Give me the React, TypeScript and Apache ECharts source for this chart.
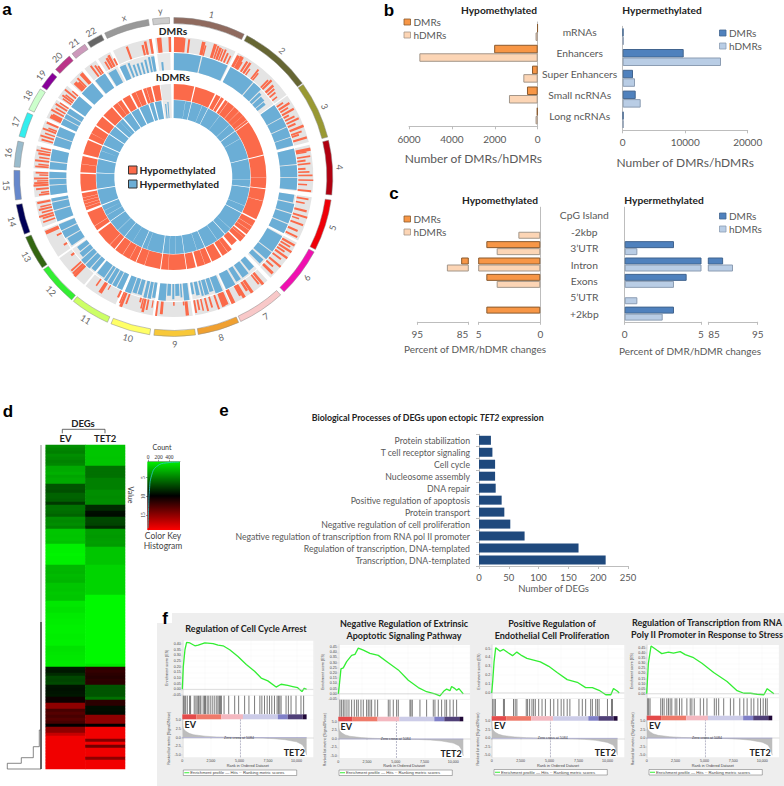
import React, { useEffect, useRef } from "react";
import * as echarts from "echarts";

// ---------- panel a : circos ----------
const chromNames = ["1","2","3","4","5","6","7","8","9","10","11","12","13","14","15","16","17","18","19","20","21","22","x","y"];
const chromStart = [0.2,27.5,54.5,76.7,98.3,118,137.7,155.8,172,188.5,204.4,219.6,235.3,249,261.7,273.6,284.8,295,304.5,312.4,320.6,327.5,334.5,352.5];
const chromEnd = [26.4,54,75.5,96.5,117,136,155,171,187,203,218.8,234.5,247.8,260,272.4,283,293.8,303.5,310.7,319.3,326.3,333.2,351,358.6];
const chromColors = ["#8f6a5e","#666633","#999933","#b00010","#ee0008","#f010b0","#f8c8c8","#f0a030","#f8c838","#ffff66","#ccff66","#33ee33","#336611","#000055","#6688cc","#99bbcc","#33eeee","#ccffcc","#880099","#bb3388","#cc99bb","#666666","#999999","#cccccc"];
// [angle, width, fraction of track]
const dmrHypoBars = [
  [0.3,3,1],[4.1,0.7,0.95],[6.2,0.6,0.9],[12,1.1,0.9],[13.5,0.5,0.7],[17,1,0.95],[18.6,0.6,0.9],[19.6,0.8,0.85],[20.9,0.5,0.8],[22,0.6,0.85],[23.4,0.6,0.7],[25,0.5,0.6],
  [27.6,1,0.85],[29,1.2,0.9],[30.4,0.6,0.6],[32.2,0.7,0.8],[33.5,0.8,0.85],[35,0.5,0.5],[38,0.6,0.8],[39,0.5,0.6],[44,0.6,0.7],[45,0.7,0.85],[47,0.8,0.7],[48.5,0.6,0.6],[50,0.6,0.5],[52,0.5,0.4],
  [55.5,0.6,0.5],[57,0.7,0.85],[58.5,0.6,0.6],[60,0.7,0.9],[61.5,0.6,0.4],[63,0.6,0.7],[64.5,0.6,0.9],[66,0.7,0.55],[68,0.8,1],[70,0.6,0.75],[71,0.6,0.5],[73,0.7,0.95],
  [77.8,1,1],[79,0.5,0.7],[81,0.5,0.9],[82.5,0.6,0.55],[84,0.5,0.85],[86,0.6,0.5],[87.5,0.5,0.75],[89,0.5,0.95],[91,0.5,1],[93,0.5,0.6],[95.5,0.6,0.9],
  [99,0.6,0.8],[101,0.5,0.6],[104,0.7,0.85],[106.5,0.6,1],[108,0.5,0.5],[110,0.6,0.9],[113,0.7,0.7],[115.5,0.6,0.85],
  [119,0.7,0.95],[120.5,0.6,0.75],[122,0.7,1],[123.5,0.6,0.6],[125,0.7,1],[127,0.6,0.7],[129.5,0.7,1],[131.5,0.6,0.6],[133.5,0.9,0.9],
  [139.5,0.9,1],[141,0.6,0.8],[145,1,1],[146.5,0.8,0.7],[148.8,1,1],[150,0.8,0.75],[153.7,1.2,1],
  [156.5,1.5,0.9],[158,1,0.95],[160.5,0.6,1],[163,0.6,0.75],[165,0.6,0.9],[167,0.5,0.8],[168.5,0.6,0.7],[170,0.6,0.85],
  [173.5,1,0.95],[175,0.5,0.25],[179.4,0.5,0.25],[184.4,0.9,0.85],[186.7,0.6,1],
  [189,0.4,0.5],[191,0.6,0.7],[192.3,0.8,0.9],[193.5,0.5,0.7],[194.5,0.6,0.3],[200,0.6,0.7],[201.5,0.9,1],[202.7,0.5,0.8],
  [204.2,0.7,0.5],[209.8,0.4,0.35],[211.5,1.2,0.8],[215,0.5,0.55],
  [224.2,1,1],[225.5,0.8,0.95],[227,0.6,0.9],[232,0.7,0.25],
  [237.7,0.7,0.25],[243,0.6,0.35],[245.6,1.2,0.95],
  [250.5,0.5,0.85],[252,0.6,0.8],[253,0.6,1],[254.5,0.5,0.75],[255.8,0.6,0.9],[257,0.5,0.75],[258.7,0.7,0.9],
  [262,0.6,0.7],[263,0.5,0.55],[264.5,0.6,0.85],[266,0.7,1],[267,0.6,0.95],[268,0.5,0.75],[269,0.6,0.95],[270.5,0.5,0.6],[271.5,0.5,0.85],
  [274,0.6,0.9],[275,0.5,0.7],[276.5,0.6,0.95],[278,0.5,0.7],[279.5,0.7,0.8],[280.8,0.5,0.95],[282,0.5,0.7],
  [285.5,0.6,0.8],[287,0.6,0.95],[288.5,0.5,0.7],[290,0.6,0.95],[291,0.5,0.6],[292.8,0.7,0.85],
  [295.5,1.3,0.8],[297,0.6,0.7],[298.5,0.6,0.95],[300,0.5,0.75],[301.5,0.6,0.9],[302.8,0.5,0.7],
  [305,0.5,0.7],[306,0.6,0.85],[307,0.5,0.7],[308.5,0.6,0.95],[310,0.5,0.5],
  [313,1.2,0.75],[314.4,0.8,0.6],[315.5,0.6,0.85],[317.5,1.2,0.9],
  [323,0.6,0.9],[324.5,0.6,0.75],[325.5,0.6,0.6],
  [329,0.6,0.6],[330.2,0.8,0.75],[331.4,0.8,0.85],[333,0.6,0.5],
  [339.9,0.7,0.9],[346.4,0.7,0.7],[347.7,0.8,0.9],[350,0.8,1],
  [353.2,1.4,1],[358,0.8,1],
];
// [start, end, fraction of track]
const dmrHyperSegs = [
  [0.3,13,1],[13.6,26,1],[27.5,40,1],[40.5,45,1],[45.5,47,0.8],[47.5,50,0.7],[50.4,52,0.6],
  [54.5,61,1],[61.4,66,1],[66.4,71,1],[71.4,75.3,1],[76.7,84,1],[84.4,90,1],[90.4,96,1],
  [98.3,102,0.9],[102.6,107,1],[107.5,112,1],[112.5,117,1],[118.5,127,1],[127.5,131.5,1],[132.5,135,0.9],
  [138,141,0.8],[142,145.5,0.9],[146.5,149,0.9],[150,154.8,1],
  [156.5,160,1],[160.5,162.5,0.8],[163,165,0.9],[165.5,166.5,0.9],[167.3,169,0.8],[169.8,171,0.7],
  [172.5,175,1],[175.7,176.5,0.8],[177,179,0.7],[179.5,180.5,0.9],[181.2,183,0.7],[183.5,187,1],
  [188.5,190,0.9],[190.5,192,1],[192.5,194,1],[195,197,0.9],[197.5,199.5,0.9],[200,203,1],
  [204.4,207,1],[207.5,209.5,1],[210,212,1],[212.5,214,1],[214.5,218.5,0.9],
  [219.6,222,0.9],[222.5,225,1],[225.5,228,1],[228.5,231,0.8],[231.5,234,0.7],
  [236,240,0.9],[240.5,244,1],[244.5,247.5,1],[249,254,1],[254.5,258,1],[258.5,260,1],
  [261.7,266,1],[266.4,269,1],[269.4,272.4,1],[273.6,277,1],[277.5,283,1],[284.8,289,1],[289.4,293.8,1],
  [295,298,1],[298.4,300.5,1],[301,303.5,1],[304.5,310.7,1],[312.4,319.3,1],[321,326.5,1],[328,332,0.9],
  [334,337,0.9],[338,339,0.9],[340,341,0.7],[342,343,0.7],[344,345,0.7],[346,347,0.8],[348,349,0.9],[349.5,351,0.9],[354,355,0.5],
];
const hdmrHypoSegs = [
  [0.3,13,1],[13.8,26.6,1],[27.5,30.5,1],[31,33,1],[34,53.5,1],[54,76,1],[76.7,97,1],[97.6,117,1],
  [118,128,1],[129,134,1],[135,139.5,0.8],[141,148,1],[149,155.3,1],[156,165,1],[166,171.5,1],[172,187.6,1],
  [188.2,203.5,1],[204,218.6,1],[219.3,233.8,1],[235,247.5,1],[249,260,1],[261,272,1],[273,283,1],
  [284.3,293.5,1],[294.4,303,1],[304,310.3,1],[311.3,318.7,1],[319.6,326,1],[327,332,1],[333.2,340,1],[341,346,1],[347,351.5,1],
];
const hdmrHyperSegs = [
  [0.3,13.5,1],[14,26.6,1],[27,53,1],[53.5,76,1],[76.5,97.5,1],[98,117.5,1],[118,137.4,1],[138,155.5,1],[156,171.6,1],[172,187.6,1],
  [188.2,203.8,1],[204.3,219,1],[219.5,234.6,1],[235.2,248,1],[248.8,260.5,1],[261.2,272.8,1],[273.4,283.5,1],[284.2,294,1],
  [294.8,303.5,1],[304.2,310.8,1],[311.6,319,1],[320,326.2,1],[327,333,1],[334,341,1],[342,345,1],[346,351,1],[353.5,354.5,0.8],[355.5,356.3,0.9],
];
const hypoCuts = [36,41,45,48.5,52,90,105,122,125,130.5,144,160,183,198,208,213,223,238,251,253,255,257,278,298,323,336,343];
const hyperCuts = [9,22,37,47,60,92,112,132,145,162,178,183,200,212,226,240,244,266,290,316];

// ---------- panel b ----------
const bCategories = ["mRNAs","Enhancers","Super Enhancers","Small ncRNAs","Long ncRNAs"];
const bHypoDmr = [15,2030,265,500,40];
const bHypoHdmr = [100,5517,670,1340,100];
const bHyperDmr = [100,9760,1650,2080,120];
const bHyperHdmr = [150,15730,1970,2880,130];

// ---------- panel c ----------
const cCategories = ["CpG Island","-2kbp","3’UTR","Intron","Exons","5’UTR","+2kbp"];
const cHypoDmr = [null,null,4.38,86.4,4.38,null,4.38];
const cHypoHdmr = [null,1.78,3.54,89.2,3.54,null,null];
const cHyperDmr = [null,null,3.23,88,4.06,null,3.23];
const cHyperHdmr = [null,null,0.83,90,3.23,0.83,2.49];

// ---------- panel d ----------
const heatColumns = ["EV","TET2"];
const evValues = [5,5.3,5.5,5,5.2,5.4,5.2,4,4,3.8,4.2,4,4,7,7,7.2,6.5,6.5,6.7,8,6,6,6.2,6.5,5,5.2,5,5.4,3,3,3.1,3,3.2,1.5,1.5,1.5,1.4,1.5,1.5,1.5,3.5,3.5,3.6,3.4,3.5,3.6,3,3,3.1,2.9,3,3,1.8,1.8,2,2,1.7,1.7,1.6,1.6,1.5,1.5,1.5,1.6,1.6,1.5,1.5,2,2,1.9,1.8,1.8,1.7,1.7,9,9.2,8.5,7.5,7.6,7.4,9.3,9.4,9.3,9.2,10.5,10.5,15,15,12.5,13,12.5,13,12.5,10,15,15,17,18.5,18.5,18.5,18.5,18.5,18.5,18.5,18.5,18.5,18.5,18.5];
const tet2Values = [3,3,3,3,3.1,3,3,6,6,6,6,5.5,5.5,5.5,5.5,5,5,5.1,5,5,8.5,8.5,9.5,9.6,7.5,7.5,7.6,8.5,4.5,4.5,4.6,4.5,4.4,4.5,3,3,3,3,3,3,2.5,2.5,2.5,2.5,2.5,2.5,2.5,2.5,2.5,2.5,1.2,1.2,1.2,1.2,1.2,1.2,1.2,1.2,1.2,1.2,1.2,1.2,1.2,1.2,1.2,1.2,1.2,1.2,1.2,1.2,1.2,1.2,1.2,1.8,11.5,11.8,11.5,11.3,11.6,11.5,7,7,7,7,6,11.5,11.5,9.5,9.5,9.6,15,15,15,10,18.5,18.5,18.5,18.5,14.5,18.5,14,18.5,18.5,18.5,15,18.5,18.5,18.5];
const keyCount = [587,350,162,69,25,12,0];
const keyValue = [0.8,1,2,4.3,8.7,13,18.5];
const dendroTrunk = [[41,445],[41,769]];
const dendroLower = [[41,622],[41,769]];
const dendroSteps = [[41,769],[7.3,769],[7.3,763.3],[21.3,763.3],[21.3,757.7],[33.3,757.7],[33.3,746.7],[39.3,746.7],[39.3,730],[41,730]];

// ---------- panel e ----------
const eCategories = ["Protein stabilization","T cell receptor signaling","Cell cycle","Nucleosome assembly","DNA repair","Positive regulation of apoptosis","Protein transport","Negative regulation of cell proliferation","Negative regulation of transcription from RNA pol II promoter","Regulation of transcription, DNA-templated","Transcription, DNA-templated"];
const eValues = [20,22.5,27,27,28,38,42.5,52.5,76.5,167,212.5];

// ---------- panel f ----------
const fRankTicks = [0,2500,5000,7500,10000];
const fRankedTicks = [5,2.5,0,-2.5,-5];
const fTitles = [["Regulation of Cell Cycle Arrest"],["Negative Regulation of Extrinsic","Apoptotic Signaling Pathway"],["Positive Regulation of","Endothelial Cell Proliferation"],["Regulation of Transcription from RNA","Poly II Promoter in Response to Stress"]];
const es1 = [[0,0],[87,0.2],[232,0.35],[377,0.415],[667,0.41],[1102,0.385],[1392,0.39],[1972,0.41],[2697,0.405],[3132,0.39],[3567,0.385],[4147,0.35],[4872,0.29],[5597,0.22],[6322,0.16],[6902,0.1],[7482,0.075],[8207,0.02],[8642,0.045],[9222,0.035],[9657,0.025],[10092,0.015],[10469,-0.02],[10672,0.01],[10875,0]];
const es2 = [[0,0],[87,0.08],[232,0.24],[435,0.25],[725,0.31],[1160,0.37],[1450,0.38],[1740,0.44],[2175,0.42],[2755,0.39],[3480,0.37],[4350,0.3],[5220,0.23],[6090,0.13],[6960,0.06],[7685,0.02],[8410,0],[8845,-0.02],[9222,0.03],[9425,0.045],[9715,0.03],[9860,0.07],[10150,0.05],[10295,0.035],[10498,0.05],[10875,0]];
const es3 = [[0,0],[87,0.13],[203,0.35],[348,0.51],[725,0.47],[1015,0.49],[1450,0.45],[1798,0.42],[2175,0.46],[2610,0.42],[3045,0.39],[3625,0.37],[4205,0.35],[4930,0.3],[5655,0.23],[6525,0.15],[7395,0.12],[8120,0.06],[8700,0.06],[9280,0.03],[9860,-0.02],[10295,-0.02],[10527,0.05],[10875,0.02],[11020,0]];
const es4 = [[0,0],[145,0.3],[377,0.47],[870,0.43],[1305,0.395],[1885,0.41],[2320,0.4],[2900,0.415],[3335,0.385],[4060,0.355],[4785,0.3],[5800,0.21],[6960,0.12],[7830,0.03],[8410,0.005],[8990,0.005],[9570,-0.005],[10150,-0.01],[10440,0.05],[10730,0.025],[11020,0]];
const hits1 = [87,174,290,435,638,725,1044,1189,1305,1421,1537,1624,1827,1943,2030,2175,2320,2494,2668,2842,3016,3132,3248,3335,3422,3654,4060,4582,4930,5452,5829,6322,6786,6960,7192,7424,7627,7830,8062,8294,8410,8526,8642,9077,9280,9512,9947,10382,10614];
const hits2 = [145,290,435,580,754,928,1160,1392,1595,1740,1972,2175,2465,2610,2755,2900,3190,3422,4350,4495,4785,5075,5220,6235,6322,6438,7105,7685,8265,8410,8700,8990,9280,9425,9715,10005,10295];
const hits3 = [87,203,319,1015,1102,1885,2030,2175,2987,3103,3277,3480,3625,3770,4060,4350,4640,5075,5365,5713,6003,6235,6525,6757,7540,7830,8120,8555,8700,8990,9135,9280,10005,10353,10440];
const hits4 = [87,174,290,1218,1363,1508,1740,1885,2030,2175,2465,2610,2842,3045,3480,3770,3915,4118,4640,4930,5220,5858,6032,6235,6670,7250,7540,8062,8410,8700,9048,9280,9628,9860,10092,10295,10440];
const bandStart = [0,1247,3422,5307,8352,9222,10527];
const bandEnd = [1247,3422,5307,8352,9222,10527,10875];
const bandColors = ["#e44a4a","#ef7a6a","#f4b8c0","#cccce8","#8080c8","#504078","#200838"];
const rankedRank = [0,30,100,300,600,1000,2000,3000,4000,5084,7000,8000,9000,10000,10500,10700,10875];
const rankedMetric = [5,3.4,2.5,1.8,1.2,0.8,0.4,0.2,0.1,0,-0.15,-0.3,-0.6,-1.2,-2,-3,-5];

const F = "Lato";
const GREY = "#595959";
const AX = "#bdbdbd";
const RED = "#fb6a4a";
const BLUE = "#6baed6";
const BAR_WIDEN = 1.35;

function txt(text: string, x: number, y: number, font: string, fill = GREY, align = "center", rotation = 0) {
  return { type: "text", x, y, rotation, z: 100, silent: true, style: { text, font, fill, align, textAlign: align, verticalAlign: "middle", textVerticalAlign: "middle" } };
}
function box(x0: number, y0: number, x1: number, y1: number, fill: any, stroke?: string, z = 100, lw = 0.8) {
  return { type: "rect", z, silent: true, shape: { x: x0, y: y0, width: x1 - x0, height: y1 - y0 }, style: { fill, stroke: stroke || "none", lineWidth: lw } };
}
function pl(points: number[][], stroke: string, lw = 0.8) {
  return { type: "polyline", z: 100, silent: true, shape: { points }, style: { stroke, lineWidth: lw, fill: "none" } };
}

function buildOption() {
  const grid: any[] = [], xAxis: any[] = [], yAxis: any[] = [], series: any[] = [], graphic: any[] = [];
  const add = (x0: number, y0: number, x1: number, y1: number, x: any, y: any, extra: any = {}) => {
    grid.push({ left: x0, top: y0, width: x1 - x0, height: y1 - y0, ...extra });
    const gridIndex = grid.length - 1;
    xAxis.push({ gridIndex, ...x });
    yAxis.push({ gridIndex, ...y });
    return gridIndex;
  };
  const plain = (v: number) => String(v);
  const valueAxis = (o: any) => ({
    type: "value", splitLine: { show: false },
    axisLine: { show: true, lineStyle: { color: AX } }, axisTick: { show: true, length: 3, lineStyle: { color: AX } },
    axisLabel: { fontFamily: F, fontSize: 10, color: GREY, margin: 8, formatter: plain }, ...o,
  });
  const catAxis = (data: string[], o: any) => ({
    type: "category", data, inverse: true,
    axisLine: { show: true, lineStyle: { color: AX } }, axisTick: { show: false },
    axisLabel: { show: false }, ...o,
  });

  // ----- a : circos -----
  const polarId = { coordinateSystem: "polar", polarIndex: 0, silent: true, animation: false };
  const rad = (d: number) => ((d - 90) * Math.PI) / 180;
  const sectorItem = (r0: number, r1: number, start: number, end: number, api: any, style: any) => {
    const c = api.coord([0, 0]);
    const p0 = api.coord([r0, 0]);
    const p1 = api.coord([r1, 0]);
    return {
      type: "sector",
      shape: { cx: c[0], cy: c[1], r0: Math.hypot(p0[0] - c[0], p0[1] - c[1]), r: Math.hypot(p1[0] - c[0], p1[1] - c[1]), startAngle: rad(start), endAngle: rad(end), clockwise: true },
      style,
    };
  };
  const chromData = chromNames.map((_, i) => [chromStart[i], chromEnd[i], i]);
  series.push({
    type: "custom", ...polarId, encode: { angle: 0 }, data: chromData,
    renderItem: (_: any, api: any) => {
      const s = api.value(0), e = api.value(1), i = api.value(2);
      const mid = (s + e) / 2;
      const lab = api.coord([167, mid]);
      const deg = mid > 90 && mid < 272 ? mid - 180 : mid;
      return {
        type: "group",
        children: [
          sectorItem(153.5, 159.5, s, e, api, { fill: chromColors[i], stroke: "#8a8a8a", lineWidth: 0.5 }),
          { type: "text", x: lab[0], y: lab[1], rotation: (-deg * Math.PI) / 180, style: { text: chromNames[i], font: `9px ${F}`, fill: "#666", align: "center", verticalAlign: "middle", textAlign: "center", textVerticalAlign: "middle" } },
        ],
      };
    },
  });
  const backdrop = (r0: number, r1: number, fill: string) => series.push({
    type: "custom", ...polarId, encode: { angle: 0 }, data: chromData,
    renderItem: (_: any, api: any) => sectorItem(r0, r1, api.value(0), api.value(1), api, { fill }),
  });
  const track = (rows: number[][], r0: number, r1: number, fill: string) => series.push({
    type: "custom", ...polarId, encode: { angle: 0 }, data: rows,
    renderItem: (_: any, api: any) => sectorItem(r0, r0 + (r1 - r0) * api.value(2), api.value(0), api.value(1), api, { fill }),
  });
  const cuts = (angles: number[], r0: number, r1: number) => series.push({
    type: "custom", ...polarId, encode: { angle: 0 }, data: angles.map((a) => [a, a + 0.18]),
    renderItem: (_: any, api: any) => sectorItem(r0, r1, api.value(0), api.value(1), api, { fill: "#fff" }),
  });
  backdrop(125, 140, "#e4e4e4");
  backdrop(107, 124, "#e8e8e8");
  track(dmrHypoBars.map(([a, w, f]) => [a, a + w * BAR_WIDEN, f]), 125, 140, RED);
  track(dmrHyperSegs, 107, 124, BLUE);
  series.push({
    type: "custom", ...polarId, encode: { angle: 0 }, data: [[chromStart[23] - 0.5, chromEnd[23]]],
    renderItem: (_: any, api: any) => sectorItem(77, 93, api.value(0), api.value(1), api, { fill: "#e4e4e4" }),
  });
  series.push({
    type: "custom", ...polarId, encode: { angle: 0 }, data: [[chromStart[23] - 0.5, chromEnd[23]]],
    renderItem: (_: any, api: any) => sectorItem(59, 77, api.value(0), api.value(1), api, { fill: "#e8e8e8" }),
  });
  track(hdmrHypoSegs, 77.5, 93, RED);
  track(hdmrHyperSegs, 59, 77, BLUE);
  cuts(hypoCuts, 77.5, 93);
  cuts(hyperCuts, 59, 77);

  // ----- b / c : diverging bars -----
  const barPair = (gi: number, a: any[], b: any[], dark: string[], light: string[], width: number) => {
    series.push({ type: "bar", name: "DMRs", xAxisIndex: gi, yAxisIndex: gi, data: a, barWidth: width, barGap: "0%", itemStyle: { color: dark[0], borderColor: dark[1], borderWidth: 1 }, silent: true });
    series.push({ type: "bar", name: "hDMRs", xAxisIndex: gi, yAxisIndex: gi, data: b, barWidth: width, barGap: "0%", itemStyle: { color: light[0], borderColor: light[1], borderWidth: 1 }, silent: true });
  };
  const OR = ["#f79646", "#8a5a2e"], PE = ["#fcd5b5", "#a39689"], BL = ["#4f81bd", "#41648f"], LB = ["#b9cde5", "#8c9db3"];
  const centerLabels = (margin: number, fs = 10.3) => ({ show: true, align: "center", interval: 0, margin, fontFamily: F, fontSize: fs, color: GREY });

  const nameOpt = { name: "Number of DMRs/hDMRs", nameLocation: "middle", nameGap: 26, nameTextStyle: { fontFamily: F, fontSize: 12, color: GREY } };
  const smallLab = { fontFamily: F, fontSize: 10, color: GREY, margin: 7, formatter: plain };
  let g = add(409, 22, 537.7, 126.3,
    valueAxis({ inverse: true, min: 0, max: 6000, interval: 2000, ...nameOpt }),
    catAxis(bCategories, { position: "right", axisLabel: centerLabels(42) }));
  barPair(g, bHypoDmr, bHypoHdmr, OR, PE, 8.5);
  g = add(622.7, 26.3, 747.7, 130.3,
    valueAxis({ min: 0, max: 20000, interval: 10000, ...nameOpt, axisLabel: smallLab }),
    catAxis(bCategories, {}));
  barPair(g, bHyperDmr, bHyperHdmr, BL, LB, 8.5);

  const lowPart = (v: any[]) => v;
  const highPart = (v: any[]) => v.map((d) => (d !== null && d >= 85 ? d : null));
  const fiveAxis = (inverse: boolean) => valueAxis({ inverse, min: 0, max: 5, interval: 5, axisLabel: smallLab });
  const brokenAxis = (inverse: boolean) => valueAxis({
    inverse, min: 85, max: 95,
    axisTick: { show: true, length: 3, lineStyle: { color: AX }, customValues: [85, 95] },
    axisLabel: { ...smallLab, customValues: [85, 95], alignMinLabel: inverse ? "right" : "left" },
  });
  g = add(478.7, 207.2, 540.3, 321.8, fiveAxis(true), catAxis(cCategories, { position: "right", axisLabel: centerLabels(44) }));
  barPair(g, lowPart(cHypoDmr), lowPart(cHypoHdmr), OR, PE, 7);
  g = add(417.3, 207.2, 468.3, 321.8, brokenAxis(true), catAxis(cCategories, { show: false }));
  barPair(g, highPart(cHypoDmr), highPart(cHypoHdmr), OR, PE, 7);
  g = add(624.7, 207.2, 701, 321.8, fiveAxis(false), catAxis(cCategories, {}));
  barPair(g, lowPart(cHyperDmr), lowPart(cHyperHdmr), BL, LB, 7);
  g = add(708.3, 207.2, 757.7, 321.8, brokenAxis(false), catAxis(cCategories, { show: false }));
  barPair(g, highPart(cHyperDmr), highPart(cHyperHdmr), BL, LB, 7);

  // ----- d : heat map -----
  g = add(45.7, 445, 125, 769,
    { type: "category", data: heatColumns, position: "top", axisLine: { show: false }, axisTick: { show: false }, axisLabel: { fontFamily: F, fontWeight: "bold", fontSize: 9.5, color: "#222", margin: 2 } },
    { type: "category", data: evValues.map((_, i) => String(i)), inverse: true, show: false });
  const heatIndex = series.length;
  series.push({
    type: "heatmap", xAxisIndex: g, yAxisIndex: g, silent: true,
    data: evValues.flatMap((v, i) => [[0, i, v], [1, i, tet2Values[i]]]),
    itemStyle: { borderWidth: 0 },
  });
  // colour key histogram
  g = add(148, 461.7, 180, 530,
    { type: "value", position: "top", min: 0, max: 600, interval: 200, splitLine: { show: false }, axisLine: { show: true, lineStyle: { color: "#666", width: 0.6 } }, axisTick: { show: true, length: 2, lineStyle: { color: "#555", width: 0.6 } }, axisLabel: { fontFamily: "Liberation Serif", fontSize: 5.5, color: "#333", margin: 2, showMaxLabel: false } },
    { type: "value", inverse: true, min: 0.7, max: 19, splitLine: { show: false }, axisLine: { show: true, lineStyle: { color: "#666", width: 0.6 } }, axisTick: { show: true, length: 2, lineStyle: { color: "#555", width: 0.6 }, customValues: [5, 10, 15] }, axisLabel: { fontFamily: "Liberation Serif", fontSize: 5.5, color: "#333", rotate: 90, margin: 2, customValues: [5, 10, 15] } });
  series.push({ type: "line", xAxisIndex: g, yAxisIndex: g, symbol: "none", silent: true, smooth: true, data: keyCount.map((c, i) => [c, keyValue[i]]), lineStyle: { color: "#2bc8c8", width: 0.8 } });

  // ----- e : biological processes -----
  g = add(479, 434.3, 628, 566,
    valueAxis({ min: 0, max: 250, interval: 50, name: "Number of DEGs", nameLocation: "middle", nameGap: 17, nameTextStyle: { fontFamily: F, fontSize: 9.5, color: GREY }, axisLabel: { fontFamily: F, fontSize: 9.5, color: GREY, margin: 6, formatter: plain } }),
    catAxis(eCategories, { axisTick: { show: true, length: 3, lineStyle: { color: AX } }, axisLabel: { show: true, interval: 0, margin: 9, fontFamily: F, fontSize: 8.7, color: GREY } }));
  series.push({ type: "bar", xAxisIndex: g, yAxisIndex: g, data: eValues, barWidth: 9, silent: true, itemStyle: { color: "#1f497d" } });

  // ----- f : GSEA -----
  const plots = [
    { x0: 182.3, x1: 313.3, es: [640.7, 695], hits: [695.7, 719.3], ranked: [719.3, 757.3], range: [-0.05, 0.43], ticks: [-0.05,0,0.05,0.1,0.15,0.2,0.25,0.3,0.35,0.4], data: es1, hits_: hits1, fmt: 2, legend: [183.3, 296.7, 770, 775.5], zero: [239, 737.7] },
    { x0: 338.3, x1: 470, es: [645, 699], hits: [699.7, 721.3], ranked: [721.3, 758], range: [-0.05, 0.47], ticks: [-0.05,0,0.05,0.1,0.15,0.2,0.25,0.3,0.35,0.4,0.45], data: es2, hits_: hits2, fmt: 2, legend: [339, 452.3, 770, 775.5], zero: [395.7, 739] },
    { x0: 491.7, x1: 624.3, es: [645, 698.3], hits: [699, 720.7], ranked: [720.7, 757.3], range: [-0.06, 0.54], ticks: [0,0.1,0.2,0.3,0.4,0.5], data: es3, hits_: hits3, fmt: 1, legend: [494, 607.3, 769.5, 775], zero: [552.7, 737.7] },
    { x0: 646.7, x1: 779, es: [645, 697.3], hits: [698.3, 720.3], ranked: [720.3, 757.3], range: [-0.035, 0.48], ticks: [0,0.05,0.1,0.15,0.2,0.25,0.3,0.35,0.4,0.45], data: es4, hits_: hits4, fmt: 2, legend: [649, 762.3, 769.5, 775], zero: [707, 738] },
  ];
  const tiny = { fontFamily: "Liberation Sans", fontSize: 3.6, color: "#444", margin: 1.5 };
  const white = { show: true, backgroundColor: "#fff", borderWidth: 0 };
  const thin = { show: true, lineStyle: { color: "#aaa", width: 0.4 } };
  const rankAxis = { type: "value", min: 0, max: 11460, splitLine: { show: true, lineStyle: { color: "#f2f2f2", width: 0.4 } } };
  plots.forEach((p) => {
    let gi = add(p.x0, p.es[0], p.x1, p.es[1],
      { ...rankAxis, axisLine: { show: false }, axisTick: { show: false }, axisLabel: { show: false } },
      { type: "value", min: p.range[0], max: p.range[1], splitLine: { show: true, lineStyle: { color: "#f2f2f2", width: 0.4 } }, axisLine: thin, axisTick: { show: true, length: 1, lineStyle: { color: "#888", width: 0.3 }, customValues: p.ticks }, axisLabel: { ...tiny, customValues: p.ticks, formatter: (v: number) => v.toFixed(p.fmt) }, name: "Enrichment score (ES)", nameLocation: "middle", nameGap: 10, nameTextStyle: { fontFamily: "Liberation Sans", fontSize: 3.6, color: "#444" } }, white);
    series.push({ type: "line", xAxisIndex: gi, yAxisIndex: gi, symbol: "none", silent: true, data: p.data, lineStyle: { color: "#33ee33", width: 1.3 } });
    series.push({ type: "line", xAxisIndex: gi, yAxisIndex: gi, symbol: "none", silent: true, data: [[0, 0], [11460, 0]], lineStyle: { color: "#bbb", width: 0.5 } });

    gi = add(p.x0, p.hits[0], p.x1, p.hits[1],
      { ...rankAxis, splitLine: { show: false }, axisLine: { show: false }, axisTick: { show: false }, axisLabel: { show: false } },
      { type: "value", min: 0, max: 1, splitLine: { show: false }, axisLine: thin, axisTick: { show: false }, axisLabel: { show: false } }, white);
    series.push({
      type: "custom", xAxisIndex: gi, yAxisIndex: gi, silent: true, encode: { x: 0 }, data: p.hits_.map((h) => [h]),
      renderItem: (_: any, api: any) => {
        const a = api.coord([api.value(0), 0.21]);
        const b = api.coord([api.value(0), 1]);
        return { type: "line", shape: { x1: a[0], y1: a[1], x2: b[0], y2: b[1] }, style: { stroke: "#333", lineWidth: 0.9, opacity: 0.72 } };
      },
    });
    series.push({
      type: "custom", xAxisIndex: gi, yAxisIndex: gi, silent: true, encode: { x: [0, 1] }, data: bandStart.map((s, k) => [s, bandEnd[k], k]),
      renderItem: (_: any, api: any) => {
        const a = api.coord([api.value(0), 0.21]);
        const b = api.coord([api.value(1), 0]);
        return { type: "rect", shape: { x: a[0], y: a[1], width: b[0] - a[0], height: b[1] - a[1] }, style: { fill: bandColors[api.value(2)] } };
      },
    });

    gi = add(p.x0, p.ranked[0], p.x1, p.ranked[1],
      { ...rankAxis, axisLine: thin, axisTick: { show: true, length: 1, lineStyle: { color: "#888", width: 0.3 }, customValues: fRankTicks }, axisLabel: { ...tiny, customValues: fRankTicks, formatter: (v: number) => v.toLocaleString("en-US") }, name: "Rank in Ordered Dataset", nameLocation: "middle", nameGap: 5.5, nameTextStyle: { fontFamily: "Liberation Sans", fontSize: 3.8, color: "#444" } },
      { type: "value", min: -5.6, max: 5.2, splitLine: { show: false }, axisLine: thin, axisTick: { show: true, length: 1, lineStyle: { color: "#888", width: 0.3 }, customValues: fRankedTicks }, axisLabel: { ...tiny, customValues: fRankedTicks, formatter: (v: number) => v.toFixed(1) }, name: "Ranked list metric (Signal2Noise)", nameLocation: "middle", nameGap: 10, nameTextStyle: { fontFamily: "Liberation Sans", fontSize: 3.6, color: "#444" } }, white);
    series.push({
      type: "line", xAxisIndex: gi, yAxisIndex: gi, symbol: "none", silent: true, data: rankedRank.map((r, k) => [r, rankedMetric[k]]),
      lineStyle: { color: "#b5b5b5", width: 0.5 }, areaStyle: { color: "#bdbdbd", opacity: 1 },
      markLine: { silent: true, symbol: "none", label: { show: false }, animation: false, lineStyle: { color: "#7a7a9a", type: "dashed", width: 0.5 }, data: [{ xAxis: 5084 }] },
    });
    series.push({ type: "line", xAxisIndex: gi, yAxisIndex: gi, symbol: "none", silent: true, data: [[0, 0], [10875, 0]], lineStyle: { color: "#9a9ad0", width: 0.6 } });

    graphic.push(txt("Zero cross at 5084", p.zero[0], p.zero[1], "3.6px Liberation Sans", "#444"));
    const [lx0, lx1, ly0, ly1] = p.legend;
    const ly = (ly0 + ly1) / 2;
    graphic.push(box(lx0, ly0, lx1, ly1, "#fff", "#666", 100, 0.5));
    graphic.push(pl([[lx0 + 1, ly], [lx0 + 6, ly]], "#33ee33", 1));
    graphic.push(txt("Enrichment profile — Hits ·· Ranking metric scores", lx0 + 7, ly, "4.2px Liberation Sans", "#444", "left"));
    graphic.push(txt("EV", p.x0 + 8, p.ranked[0] + 5, `bold 9px ${F}`, "#222"));
    graphic.push(txt("TET2", p.x1 - 19, p.ranked[1] - 5, `bold 9px ${F}`, "#222"));
  });

  // ----- free text and frames -----
  const bold11 = `bold 10.2px ${F}`;
  graphic.push(box(157, 613, 784, 786, "#eeeeee", undefined, -10));
  graphic.push(box(157, 613, 172, 623, "#ffffff", undefined, -9));
  const pf = (t: string, x: number, y: number) => txt(t, x, y, "bold 17px Liberation Sans", "#000");
  graphic.push(pf("a", 7, 9), pf("b", 389, 10), pf("c", 394, 193), pf("d", 8, 411), pf("e", 224, 410), pf("f", 165, 618));

  graphic.push(txt("DMRs", 173, 31, bold11, "#222"), txt("hDMRs", 173, 77, bold11, "#222"));
  graphic.push(box(128.5, 166, 137, 174, RED, "#333", 100, 1), box(128.5, 180, 137, 188, BLUE, "#333", 100, 1));
  graphic.push(txt("Hypomethylated", 139.5, 170, bold11, "#222", "left"), txt("Hypermethylated", 139.5, 184, bold11, "#222", "left"));

  const legendPair = (sx: number, y1: number, y2: number, dark: string[], light: string[]) => {
    graphic.push(box(sx, y1 - 3, sx + 6.5, y1 + 3, dark[0], dark[1]), box(sx, y2 - 3, sx + 6.5, y2 + 3, light[0], light[1]));
    graphic.push(txt("DMRs", sx + 9.5, y1, `10px ${F}`, GREY, "left"), txt("hDMRs", sx + 9.5, y2, `10px ${F}`, GREY, "left"));
  };
  graphic.push(txt("Hypomethylated", 499, 9.7, bold11, "#222"), txt("Hypermethylated", 662, 9.7, bold11, "#222"));
  graphic.push(txt("Hypomethylated", 500, 200, bold11, "#222"), txt("Hypermethylated", 664, 200, bold11, "#222"));
  legendPair(404, 22, 35, OR, PE);
  legendPair(719.5, 33, 46, BL, LB);
  legendPair(404, 219, 232, OR, PE);
  legendPair(719.5, 216, 229, BL, LB);
  graphic.push(txt("Percent of DMR/hDMR changes", 475, 349, `10px ${F}`), txt("Percent of DMR/hDMR changes", 690, 350.7, `10px ${F}`));

  graphic.push(txt("DEGs", 83, 423, `bold 9.5px ${F}`, "#222"), pl([[62.3, 433.3], [62.3, 429.3], [105, 429.3], [105, 433.3]], "#444", 0.8));
  graphic.push(pl(dendroTrunk, "#666", 0.7), pl(dendroLower, "#000", 1), pl(dendroSteps, "#555", 0.7));
  graphic.push(box(147.3, 461.7, 180, 530, new echarts.graphic.LinearGradient(0, 0, 0, 1, [
    { offset: 0, color: "#00ee00" }, { offset: 0.5, color: "#000" }, { offset: 1, color: "#ff0000" },
  ]), undefined, 1));
  graphic.push(txt("Count", 162, 446.7, `7px ${F}`, "#333"), txt("Value", 131, 495, `7px ${F}`, "#333", "center", -Math.PI / 2));
  graphic.push(txt("Color Key", 163, 536, `8.5px ${F}`, "#444"), txt("Histogram", 163, 545.7, `8.5px ${F}`, "#444"));

  graphic.push({
    type: "text", z: 100, x: 311.7, y: 417.7, silent: true,
    style: {
      text: "{b|Biological Processes of DEGs upon ectopic }{i|TET2}{b| expression}",
      verticalAlign: "middle", textVerticalAlign: "middle",
      rich: { b: { font: `bold 8.8px ${F}`, fill: "#222" }, i: { font: `italic bold 8.8px ${F}`, fill: "#222" } },
    },
  });

  const titleX = [246, 404, 552, 707];
  const titleY = [[628], [623.3, 635], [623.3, 635], [622, 634]];
  fTitles.forEach((lines, i) => lines.forEach((l, k) => graphic.push(txt(l, titleX[i], titleY[i][k], `bold 9px ${F}`, "#222"))));

  return {
    animation: false,
    backgroundColor: "#fff",
    polar: { center: [173.3, 177], radius: 160 },
    angleAxis: { min: 0, max: 360, startAngle: 90, clockwise: true, show: false },
    radiusAxis: { min: 0, max: 160, show: false },
    grid, xAxis, yAxis, series, graphic,
    visualMap: { show: false, seriesIndex: heatIndex, dimension: 2, min: 1, max: 19, inRange: { color: ["#00ff00", "#000000", "#ff0000"] } },
  };
}

export default function App() {
  const ref = useRef<HTMLDivElement>(null);
  useEffect(() => {
    document.body.style.margin = "0";
    const chart = echarts.init(ref.current as HTMLDivElement, undefined, { renderer: "svg" });
    chart.setOption(buildOption() as any);
    return () => chart.dispose();
  }, []);
  return <div ref={ref} style={{ width: 784, height: 786 }} />;
}
